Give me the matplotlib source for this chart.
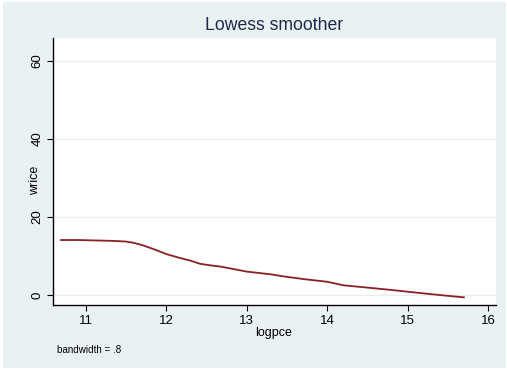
import matplotlib
matplotlib.use("Agg")
import matplotlib.pyplot as plt
from matplotlib.patches import Rectangle

# Data (lowess fit of wrice on logpce)
logpce = [10.69, 10.9, 11.1, 11.3, 11.42, 11.5, 11.59, 11.7, 11.85, 12.0, 12.15, 12.3,
          12.42, 12.55, 12.67, 12.85, 13.0, 13.13, 13.3, 13.45, 13.7, 14.0, 14.2,
          14.5, 14.75, 15.0, 15.3, 15.5, 15.7]
wrice = [14.1, 14.1, 14.0, 13.9, 13.8, 13.7, 13.4, 12.8, 11.7, 10.5, 9.6, 8.8,
         8.0, 7.6, 7.3, 6.6, 6.0, 5.7, 5.3, 4.8, 4.1, 3.4, 2.5,
         1.9, 1.4, 0.85, 0.2, -0.2, -0.6]

xticks = [11, 12, 13, 14, 15, 16]
yticks = [0, 20, 40, 60]

W, H = 507, 370
fig = plt.figure(figsize=(W / 100, H / 100), dpi=100)
fig.patch.set_facecolor("white")
bg = "#eaf1f3"
fig.patches.append(Rectangle((3 / W, 2 / H), 503 / W, 366 / H, transform=fig.transFigure,
                             facecolor=bg, edgecolor="none", zorder=-10))

l, r, t, b = 53, 496, 38, 305
ax = fig.add_axes([l / W, 1 - b / H, (r - l) / W, (b - t) / H])
ax.set_facecolor("white")
ax.plot(logpce, wrice, color="#8b1f26", lw=1.3, zorder=3)

ax.set_xlim(10.59, 16.10)
ax.set_ylim(-2.56, 65.9)
ax.set_xticks(xticks)
ax.set_yticks(yticks)
ax.grid(axis="y", color="#e6eff2", lw=1.0, zorder=0)
ax.grid(axis="x", visible=False)
for s in ["top", "right"]:
    ax.spines[s].set_visible(False)
for s in ["left", "bottom"]:
    ax.spines[s].set_color("black")
    ax.spines[s].set_linewidth(1.0)

font = "Liberation Sans"
ax.tick_params(axis="x", length=4, width=0.8, pad=3, labelsize=9.5, labelcolor="black")
ax.tick_params(axis="y", length=4, width=0.8, pad=3, labelsize=9.5, labelcolor="black")
for lab in ax.get_xticklabels():
    lab.set_fontfamily(font)
for lab in ax.get_yticklabels():
    lab.set_fontfamily(font)
    lab.set_rotation(90)
    lab.set_va("center")

fig.text(274 / W, 1 - 333 / H, "logpce", ha="center", va="center", fontsize=9, family=font)
fig.text(35 / W, 1 - 180 / H, "wrice", ha="center", va="center", rotation=90, fontsize=9, family=font)
fig.text(274 / W, 1 - 26 / H, "Lowess smoother", ha="center", va="center", fontsize=12.7,
         family=font, color="#1e2b4a")
fig.text(57 / W, 1 - 350 / H, "bandwidth = .8", ha="left", va="center", fontsize=7.1, family=font)

fig.savefig("out.png", dpi=100, facecolor=fig.get_facecolor())
